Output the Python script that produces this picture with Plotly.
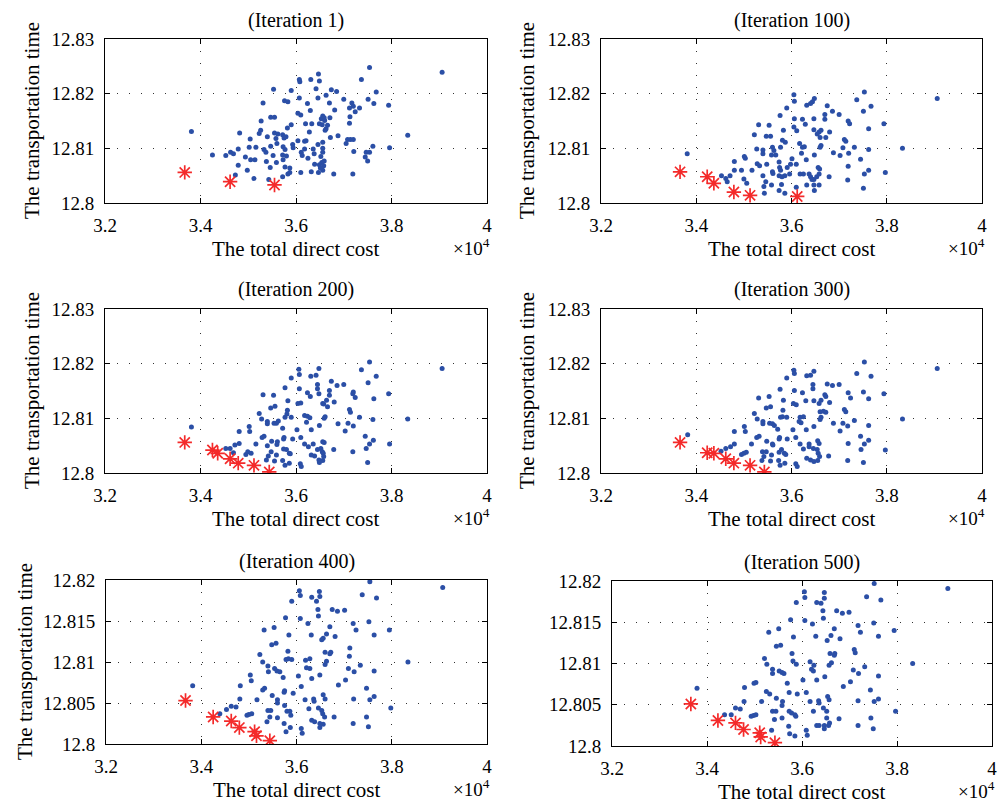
import plotly.graph_objects as go

# ---------------- data (x in units of 10^4, y = transportation time) ----------------
iterations = ["(Iteration 1)", "(Iteration 100)", "(Iteration 200)",
              "(Iteration 300)", "(Iteration 400)", "(Iteration 500)"]

pop_it1 = [(3.906,12.8239),(3.834,12.8124),(3.381,12.8131),(3.754,12.8248),(3.737,12.8226),(3.768,12.8203),(3.751,12.8190),(3.763,12.8182),(3.794,12.8179),(3.700,12.8190),(3.717,12.8183),(3.712,12.8174),(3.720,12.8177),(3.733,12.8174),(3.724,12.8167),(3.713,12.8158),(3.712,12.8146),(3.708,12.8116),(3.714,12.8116),(3.720,12.8116),(3.705,12.8109),(3.721,12.8094),(3.761,12.8104),(3.796,12.8101),(3.747,12.8093),(3.754,12.8093),(3.745,12.8084),(3.750,12.8077),(3.719,12.8053),(3.679,12.8053),(3.688,12.8123),(3.672,12.8120),(3.681,12.8170),(3.670,12.8183),(3.685,12.8204),(3.674,12.8207),(3.663,12.8197),(3.646,12.8192),(3.649,12.8223),(3.647,12.8236),(3.642,12.8209),(3.631,12.8226),(3.624,12.8182),(3.630,12.8169),(3.607,12.8226),(3.608,12.8222),(3.607,12.8192),(3.604,12.8164),(3.610,12.8161),(3.590,12.8206),(3.553,12.8208),(3.531,12.8183),(3.576,12.8187),(3.583,12.8185),(3.547,12.8157),(3.555,12.8157),(3.527,12.8150),(3.656,12.8159),(3.653,12.8154),(3.659,12.8156),(3.671,12.8156),(3.660,12.8151),(3.655,12.8143),(3.649,12.8145),(3.666,12.8142),(3.663,12.8136),(3.661,12.8133),(3.628,12.8130),(3.620,12.8145),(3.633,12.8145),(3.590,12.8143),(3.582,12.8137),(3.526,12.8133),(3.482,12.8128),(3.523,12.8127),(3.540,12.8121),(3.555,12.8128),(3.562,12.8126),(3.572,12.8125),(3.575,12.8119),(3.579,12.8121),(3.558,12.8118),(3.560,12.8109),(3.547,12.8104),(3.604,12.8114),(3.618,12.8113),(3.621,12.8114),(3.646,12.8107),(3.656,12.8111),(3.593,12.8107),(3.594,12.8101),(3.573,12.8103),(3.577,12.8098),(3.504,12.8117),(3.502,12.8102),(3.516,12.8102),(3.533,12.8098),(3.537,12.8093),(3.479,12.8099),(3.463,12.8093),(3.469,12.8090),(3.453,12.8087),(3.425,12.8088),(3.494,12.8084),(3.505,12.8079),(3.514,12.8079),(3.572,12.8088),(3.580,12.8086),(3.573,12.8079),(3.552,12.8087),(3.559,12.8074),(3.538,12.8076),(3.611,12.8093),(3.613,12.8087),(3.618,12.8099),(3.636,12.8099),(3.656,12.8100),(3.625,12.8082),(3.638,12.8090),(3.656,12.8093),(3.652,12.8085),(3.659,12.8077),(3.639,12.8071),(3.649,12.8070),(3.654,12.8074),(3.658,12.8068),(3.656,12.8060),(3.651,12.8064),(3.647,12.8056),(3.632,12.8057),(3.610,12.8056),(3.587,12.8064),(3.577,12.8066),(3.587,12.8056),(3.583,12.8053),(3.572,12.8048),(3.546,12.8065),(3.543,12.8043),(3.512,12.8045),(3.498,12.8060),(3.479,12.8069),(3.473,12.8051)]
best_it1 = [(3.367,12.8056),(3.462,12.8039),(3.555,12.8033)]

pop_it100 = [(3.906,12.8191),(3.833,12.8100),(3.381,12.8090),(3.753,12.8203),(3.737,12.8189),(3.767,12.8177),(3.751,12.8168),(3.794,12.8145),(3.762,12.8136),(3.719,12.8150),(3.722,12.8145),(3.700,12.8162),(3.686,12.8168),(3.675,12.8178),(3.670,12.8162),(3.670,12.8153),(3.680,12.8130),(3.672,12.8120),(3.662,12.8133),(3.658,12.8130),(3.654,12.8126),(3.660,12.8120),(3.662,12.8105),(3.660,12.8102),(3.647,12.8134),(3.647,12.8154),(3.629,12.8144),(3.623,12.8153),(3.648,12.8191),(3.644,12.8185),(3.640,12.8182),(3.632,12.8179),(3.605,12.8198),(3.606,12.8186),(3.590,12.8174),(3.576,12.8160),(3.606,12.8154),(3.605,12.8139),(3.611,12.8132),(3.583,12.8133),(3.531,12.8143),(3.553,12.8142),(3.522,12.8125),(3.547,12.8122),(3.556,12.8122),(3.581,12.8115),(3.587,12.8111),(3.577,12.8102),(3.560,12.8102),(3.563,12.8096),(3.558,12.8088),(3.567,12.8088),(3.540,12.8097),(3.540,12.8090),(3.527,12.8099),(3.501,12.8085),(3.503,12.8082),(3.480,12.8076),(3.617,12.8109),(3.623,12.8102),(3.627,12.8103),(3.621,12.8091),(3.631,12.8079),(3.648,12.8088),(3.601,12.8081),(3.598,12.8071),(3.610,12.8071),(3.591,12.8065),(3.574,12.8075),(3.575,12.8065),(3.577,12.8060),(3.560,12.8057),(3.561,12.8054),(3.548,12.8071),(3.528,12.8072),(3.533,12.8068),(3.517,12.8060),(3.495,12.8060),(3.480,12.8060),(3.471,12.8050),(3.462,12.8045),(3.453,12.8050),(3.465,12.8039),(3.500,12.8044),(3.506,12.8036),(3.540,12.8050),(3.546,12.8039),(3.542,12.8030),(3.558,12.8033),(3.574,12.8050),(3.580,12.8048),(3.586,12.8050),(3.579,12.8034),(3.574,12.8023),(3.586,12.8018),(3.543,12.8018),(3.596,12.8053),(3.618,12.8053),(3.625,12.8053),(3.637,12.8053),(3.640,12.8048),(3.643,12.8043),(3.647,12.8043),(3.653,12.8048),(3.658,12.8053),(3.656,12.8065),(3.659,12.8062),(3.632,12.8033),(3.647,12.8033),(3.648,12.8023),(3.658,12.8033),(3.610,12.8029),(3.679,12.8048),(3.688,12.8092),(3.702,12.8087),(3.708,12.8101),(3.711,12.8116),(3.714,12.8113),(3.732,12.8102),(3.720,12.8091),(3.745,12.8080),(3.762,12.8098),(3.719,12.8067),(3.762,12.8060),(3.753,12.8053),(3.718,12.8042),(3.751,12.8027),(3.797,12.8056)]
best_it100 = [(3.366,12.8057),(3.423,12.8048),(3.437,12.8036),(3.479,12.8020),(3.513,12.8014),(3.612,12.8012)]

pop_it200 = [(3.906,12.8191),(3.834,12.8099),(3.381,12.8084),(3.754,12.8203),(3.737,12.8189),(3.768,12.8177),(3.751,12.8165),(3.794,12.8145),(3.763,12.8136),(3.700,12.8162),(3.720,12.8148),(3.719,12.8145),(3.724,12.8138),(3.686,12.8160),(3.674,12.8168),(3.670,12.8151),(3.680,12.8130),(3.670,12.8142),(3.664,12.8133),(3.656,12.8127),(3.658,12.8126),(3.666,12.8121),(3.661,12.8103),(3.659,12.8100),(3.648,12.8145),(3.645,12.8154),(3.630,12.8140),(3.624,12.8147),(3.648,12.8191),(3.642,12.8179),(3.631,12.8177),(3.645,12.8162),(3.606,12.8190),(3.607,12.8180),(3.590,12.8174),(3.577,12.8156),(3.607,12.8154),(3.604,12.8127),(3.610,12.8128),(3.583,12.8132),(3.531,12.8143),(3.553,12.8142),(3.547,12.8119),(3.556,12.8122),(3.523,12.8109),(3.582,12.8115),(3.581,12.8108),(3.590,12.8102),(3.577,12.8102),(3.563,12.8095),(3.559,12.8091),(3.554,12.8091),(3.540,12.8094),(3.540,12.8090),(3.528,12.8099),(3.502,12.8085),(3.503,12.8076),(3.481,12.8076),(3.618,12.8105),(3.624,12.8104),(3.629,12.8101),(3.622,12.8093),(3.632,12.8079),(3.649,12.8087),(3.602,12.8079),(3.610,12.8065),(3.593,12.8062),(3.572,12.8082),(3.575,12.8065),(3.574,12.8062),(3.561,12.8057),(3.560,12.8052),(3.549,12.8058),(3.533,12.8067),(3.529,12.8065),(3.516,12.8053),(3.495,12.8034),(3.499,12.8039),(3.506,12.8036),(3.481,12.8054),(3.472,12.8051),(3.462,12.8045),(3.453,12.8045),(3.469,12.8037),(3.540,12.8050),(3.548,12.8039),(3.542,12.8031),(3.538,12.8024),(3.559,12.8033),(3.574,12.8044),(3.580,12.8043),(3.586,12.8036),(3.588,12.8035),(3.572,12.8023),(3.586,12.8018),(3.555,12.8022),(3.577,12.8014),(3.609,12.8017),(3.611,12.8012),(3.618,12.8053),(3.626,12.8048),(3.636,12.8053),(3.645,12.8043),(3.652,12.8045),(3.655,12.8039),(3.657,12.8036),(3.658,12.8030),(3.656,12.8057),(3.659,12.8056),(3.632,12.8033),(3.639,12.8031),(3.648,12.8024),(3.649,12.8019),(3.656,12.8023),(3.679,12.8043),(3.688,12.8090),(3.703,12.8077),(3.709,12.8091),(3.712,12.8116),(3.714,12.8111),(3.720,12.8086),(3.733,12.8102),(3.761,12.8098),(3.745,12.8067),(3.762,12.8060),(3.754,12.8053),(3.747,12.8045),(3.719,12.8039),(3.750,12.8019),(3.796,12.8053)]
best_it200 = [(3.367,12.8056),(3.425,12.8042),(3.436,12.8036),(3.462,12.8026),(3.479,12.8018),(3.512,12.8014),(3.544,12.8002)]

pop_it300 = [(3.906,12.8191),(3.833,12.8099),(3.382,12.8070),(3.753,12.8203),(3.737,12.8182),(3.767,12.8177),(3.751,12.8148),(3.794,12.8145),(3.762,12.8136),(3.700,12.8162),(3.719,12.8147),(3.724,12.8137),(3.686,12.8160),(3.675,12.8163),(3.670,12.8143),(3.680,12.8129),(3.672,12.8140),(3.662,12.8133),(3.658,12.8127),(3.660,12.8112),(3.667,12.8113),(3.672,12.8111),(3.662,12.8102),(3.660,12.8098),(3.647,12.8132),(3.645,12.8154),(3.630,12.8132),(3.623,12.8147),(3.647,12.8186),(3.640,12.8179),(3.632,12.8178),(3.645,12.8162),(3.605,12.8188),(3.606,12.8182),(3.590,12.8174),(3.576,12.8153),(3.606,12.8151),(3.604,12.8127),(3.610,12.8125),(3.583,12.8133),(3.531,12.8137),(3.553,12.8140),(3.547,12.8119),(3.556,12.8121),(3.522,12.8109),(3.582,12.8115),(3.581,12.8103),(3.590,12.8102),(3.577,12.8102),(3.554,12.8091),(3.560,12.8090),(3.564,12.8087),(3.540,12.8094),(3.540,12.8090),(3.528,12.8099),(3.501,12.8085),(3.503,12.8076),(3.480,12.8076),(3.618,12.8102),(3.625,12.8103),(3.616,12.8094),(3.620,12.8092),(3.631,12.8079),(3.647,12.8085),(3.603,12.8079),(3.609,12.8065),(3.591,12.8062),(3.571,12.8080),(3.575,12.8065),(3.574,12.8062),(3.560,12.8053),(3.561,12.8051),(3.548,12.8058),(3.532,12.8067),(3.527,12.8065),(3.516,12.8053),(3.495,12.8034),(3.500,12.8036),(3.505,12.8038),(3.480,12.8053),(3.472,12.8048),(3.462,12.8045),(3.452,12.8040),(3.539,12.8039),(3.547,12.8039),(3.542,12.8030),(3.538,12.8023),(3.558,12.8033),(3.579,12.8043),(3.585,12.8036),(3.588,12.8034),(3.574,12.8038),(3.573,12.8023),(3.586,12.8018),(3.556,12.8022),(3.576,12.8014),(3.609,12.8017),(3.612,12.8012),(3.618,12.8053),(3.625,12.8044),(3.637,12.8053),(3.637,12.8048),(3.646,12.8045),(3.654,12.8043),(3.656,12.8036),(3.659,12.8030),(3.655,12.8059),(3.658,12.8054),(3.632,12.8027),(3.640,12.8024),(3.647,12.8021),(3.655,12.8023),(3.678,12.8031),(3.688,12.8091),(3.702,12.8077),(3.708,12.8091),(3.711,12.8116),(3.714,12.8112),(3.718,12.8086),(3.732,12.8096),(3.762,12.8087),(3.745,12.8067),(3.762,12.8060),(3.753,12.8053),(3.746,12.8043),(3.719,12.8054),(3.718,12.8023),(3.751,12.8019),(3.797,12.8042)]
best_it300 = [(3.366,12.8056),(3.423,12.8037),(3.437,12.8036),(3.462,12.8026),(3.479,12.8018),(3.513,12.8014),(3.543,12.8002)]

pop_it400 = [(3.907,12.8191),(3.834,12.8100),(3.382,12.8071),(3.754,12.8198),(3.738,12.8182),(3.768,12.8178),(3.752,12.8149),(3.795,12.8139),(3.763,12.8133),(3.701,12.8163),(3.719,12.8147),(3.725,12.8139),(3.686,12.8162),(3.675,12.8164),(3.670,12.8143),(3.681,12.8131),(3.663,12.8134),(3.656,12.8129),(3.653,12.8127),(3.660,12.8112),(3.672,12.8112),(3.670,12.8110),(3.663,12.8101),(3.660,12.8097),(3.648,12.8186),(3.649,12.8180),(3.632,12.8179),(3.642,12.8174),(3.645,12.8164),(3.646,12.8156),(3.606,12.8187),(3.608,12.8181),(3.590,12.8174),(3.577,12.8154),(3.608,12.8153),(3.624,12.8147),(3.631,12.8133),(3.584,12.8133),(3.532,12.8139),(3.553,12.8142),(3.548,12.8121),(3.557,12.8123),(3.523,12.8109),(3.582,12.8113),(3.583,12.8104),(3.590,12.8103),(3.578,12.8103),(3.554,12.8092),(3.559,12.8089),(3.565,12.8088),(3.540,12.8095),(3.541,12.8088),(3.529,12.8100),(3.503,12.8084),(3.505,12.8077),(3.482,12.8071),(3.619,12.8102),(3.628,12.8104),(3.621,12.8093),(3.628,12.8092),(3.632,12.8080),(3.649,12.8084),(3.604,12.8083),(3.610,12.8070),(3.593,12.8062),(3.572,12.8081),(3.575,12.8065),(3.574,12.8063),(3.560,12.8054),(3.560,12.8050),(3.549,12.8059),(3.533,12.8068),(3.529,12.8066),(3.517,12.8054),(3.496,12.8035),(3.500,12.8036),(3.506,12.8037),(3.481,12.8055),(3.473,12.8045),(3.463,12.8046),(3.453,12.8042),(3.439,12.8037),(3.540,12.8041),(3.546,12.8041),(3.560,12.8032),(3.544,12.8033),(3.538,12.8027),(3.575,12.8047),(3.580,12.8040),(3.586,12.8040),(3.588,12.8035),(3.574,12.8025),(3.587,12.8020),(3.578,12.8015),(3.610,12.8019),(3.612,12.8013),(3.618,12.8054),(3.626,12.8043),(3.636,12.8055),(3.637,12.8052),(3.646,12.8044),(3.653,12.8041),(3.655,12.8037),(3.659,12.8033),(3.656,12.8060),(3.660,12.8055),(3.632,12.8029),(3.638,12.8027),(3.649,12.8025),(3.649,12.8020),(3.656,12.8024),(3.679,12.8033),(3.688,12.8072),(3.703,12.8078),(3.709,12.8092),(3.712,12.8117),(3.711,12.8107),(3.721,12.8088),(3.734,12.8096),(3.763,12.8089),(3.747,12.8068),(3.763,12.8058),(3.754,12.8054),(3.720,12.8055),(3.747,12.8033),(3.719,12.8025),(3.751,12.8021),(3.798,12.8044)]
best_it400 = [(3.367,12.8053),(3.425,12.8033),(3.463,12.8028),(3.480,12.8020),(3.512,12.8015),(3.516,12.8010),(3.544,12.8004)]

pop_it500 = [(3.907,12.8191),(3.833,12.8100),(3.379,12.8070),(3.752,12.8197),(3.736,12.8181),(3.766,12.8177),(3.751,12.8149),(3.794,12.8140),(3.761,12.8133),(3.699,12.8162),(3.718,12.8146),(3.723,12.8138),(3.685,12.8161),(3.673,12.8164),(3.668,12.8142),(3.680,12.8130),(3.661,12.8134),(3.653,12.8128),(3.659,12.8112),(3.669,12.8112),(3.668,12.8110),(3.662,12.8101),(3.657,12.8098),(3.647,12.8186),(3.647,12.8179),(3.631,12.8174),(3.640,12.8173),(3.644,12.8164),(3.645,12.8155),(3.605,12.8187),(3.606,12.8180),(3.588,12.8174),(3.576,12.8153),(3.606,12.8152),(3.622,12.8148),(3.629,12.8133),(3.582,12.8132),(3.530,12.8138),(3.551,12.8142),(3.546,12.8121),(3.555,12.8122),(3.521,12.8106),(3.579,12.8112),(3.581,12.8103),(3.588,12.8099),(3.552,12.8091),(3.558,12.8089),(3.562,12.8088),(3.538,12.8093),(3.538,12.8088),(3.526,12.8099),(3.499,12.8076),(3.503,12.8077),(3.479,12.8071),(3.617,12.8102),(3.625,12.8098),(3.620,12.8093),(3.624,12.8091),(3.631,12.8080),(3.648,12.8084),(3.602,12.8080),(3.609,12.8065),(3.590,12.8063),(3.569,12.8076),(3.573,12.8065),(3.559,12.8054),(3.558,12.8049),(3.546,12.8058),(3.525,12.8066),(3.532,12.8063),(3.515,12.8054),(3.493,12.8036),(3.498,12.8037),(3.503,12.8038),(3.478,12.8054),(3.470,12.8045),(3.460,12.8046),(3.451,12.8038),(3.437,12.8038),(3.538,12.8042),(3.545,12.8042),(3.558,12.8034),(3.542,12.8032),(3.536,12.8019),(3.573,12.8042),(3.578,12.8040),(3.585,12.8038),(3.587,12.8036),(3.572,12.8024),(3.574,12.8015),(3.585,12.8012),(3.609,12.8019),(3.611,12.8013),(3.617,12.8054),(3.624,12.8042),(3.635,12.8055),(3.636,12.8052),(3.645,12.8046),(3.652,12.8042),(3.652,12.8034),(3.658,12.8028),(3.654,12.8060),(3.657,12.8056),(3.631,12.8025),(3.636,12.8025),(3.647,12.8025),(3.647,12.8021),(3.656,12.8025),(3.678,12.8033),(3.687,12.8072),(3.702,12.8078),(3.708,12.8092),(3.710,12.8117),(3.712,12.8113),(3.719,12.8088),(3.732,12.8096),(3.761,12.8085),(3.744,12.8068),(3.761,12.8057),(3.752,12.8054),(3.718,12.8055),(3.745,12.8034),(3.718,12.8025),(3.750,12.8021),(3.797,12.8042)]
best_it500 = [(3.366,12.8051),(3.423,12.8031),(3.460,12.8028),(3.477,12.8020),(3.511,12.8016),(3.513,12.8011),(3.543,12.8004)]

x_ticks = [3.2, 3.4, 3.6, 3.8, 4.0]
x_tick_text = ["3.2", "3.4", "3.6", "3.8", "4"]
y_ticks_upper = [12.80, 12.81, 12.82, 12.83]
y_tick_text_upper = ["12.8", "12.81", "12.82", "12.83"]
y_ticks_lower = [12.800, 12.805, 12.810, 12.815, 12.820]
y_tick_text_lower = ["12.8", "12.805", "12.81", "12.815", "12.82"]

# ---------------- layout (pixel boxes) ----------------
W, H = 998, 806
FONT = "Liberation Serif, Times New Roman, serif"
BLUE = "#2b4fa6"
RED = "#f42a2a"

populations = [pop_it1, pop_it100, pop_it200, pop_it300, pop_it400, pop_it500]
bests = [best_it1, best_it100, best_it200, best_it300, best_it400, best_it500]
# (left, right, top, bottom) in px
boxes = [(105, 487, 39, 203), (601, 982, 39, 203),
         (105, 487, 309, 473), (601, 982, 309, 473),
         (106, 487, 580, 744), (612, 992, 581, 746)]
ylab_x = [32, 527, 32, 527, 25, None]

fig = go.Figure()
annotations = []
for i in range(6):
    L, R, T, B = boxes[i]
    xa = "x" if i == 0 else f"x{i+1}"
    ya = "y" if i == 0 else f"y{i+1}"
    lower = i >= 4
    pop = populations[i]
    best = bests[i]
    fig.add_trace(go.Scatter(x=[p[0] for p in pop], y=[p[1] for p in pop], mode="markers",
                             marker=dict(size=5, color=BLUE, line=dict(width=0)),
                             xaxis=xa, yaxis=ya, showlegend=False, hoverinfo="skip"))
    fig.add_trace(go.Scatter(x=[p[0] for p in best], y=[p[1] for p in best], mode="markers",
                             marker=dict(symbol="asterisk-open", size=12, color=RED,
                                         line=dict(width=1.7, color=RED)),
                             xaxis=xa, yaxis=ya, showlegend=False, hoverinfo="skip"))
    axis_common = dict(showline=True, mirror="ticks", linecolor="black", linewidth=1,
                       ticks="inside", ticklen=5, tickcolor="black", tickwidth=1,
                       showgrid=True, gridcolor="#333333", gridwidth=1, griddash="1px,11px",
                       zeroline=False, automargin=False,
                       tickfont=dict(family=FONT, size=19, color="black"),
                       fixedrange=True)
    xkey = "xaxis" if i == 0 else f"xaxis{i+1}"
    ykey = "yaxis" if i == 0 else f"yaxis{i+1}"
    fig.update_layout(**{
        xkey: dict(domain=[L / W, R / W], range=[3.2, 4.0], tickvals=x_ticks,
                   ticktext=x_tick_text, anchor=ya, ticklabelstandoff=5, **axis_common),
        ykey: dict(domain=[1 - B / H, 1 - T / H],
                   range=[12.8, 12.82] if lower else [12.8, 12.83],
                   tickvals=y_ticks_lower if lower else y_ticks_upper,
                   ticktext=y_tick_text_lower if lower else y_tick_text_upper,
                   anchor=xa, ticklabelstandoff=6, **axis_common),
    })
    cx = (L + R) / 2
    annotations.append(dict(text=iterations[i], x=cx / W, y=1 - (T - 19) / H,
                            xref="paper", yref="paper", showarrow=False,
                            xanchor="center", yanchor="middle",
                            font=dict(family=FONT, size=20, color="black")))
    annotations.append(dict(text="The total direct cost", x=cx / W, y=1 - (B + 46) / H,
                            xref="paper", yref="paper", showarrow=False,
                            xanchor="center", yanchor="middle",
                            font=dict(family=FONT, size=21, color="black")))
    annotations.append(dict(text="×10<sup>4</sup>", x=(R + 5) / W, y=1 - (B + 44) / H,
                            xref="paper", yref="paper", showarrow=False,
                            xanchor="right", yanchor="middle",
                            font=dict(family=FONT, size=19, color="black")))
    if ylab_x[i] is not None:
        annotations.append(dict(text="The transportation time", x=ylab_x[i] / W,
                                y=1 - ((T + B) / 2) / H, xref="paper", yref="paper",
                                showarrow=False, textangle=-90,
                                xanchor="center", yanchor="middle",
                                font=dict(family=FONT, size=21, color="black")))

fig.update_layout(template="none", width=W, height=H, margin=dict(l=0, r=0, t=0, b=0),
                  paper_bgcolor="white", plot_bgcolor="white",
                  annotations=annotations, showlegend=False)

fig.write_html("out.html", config={"displayModeBar": False},
               post_script="document.body.style.margin='0px';"
                           "document.body.style.overflow='hidden';")
